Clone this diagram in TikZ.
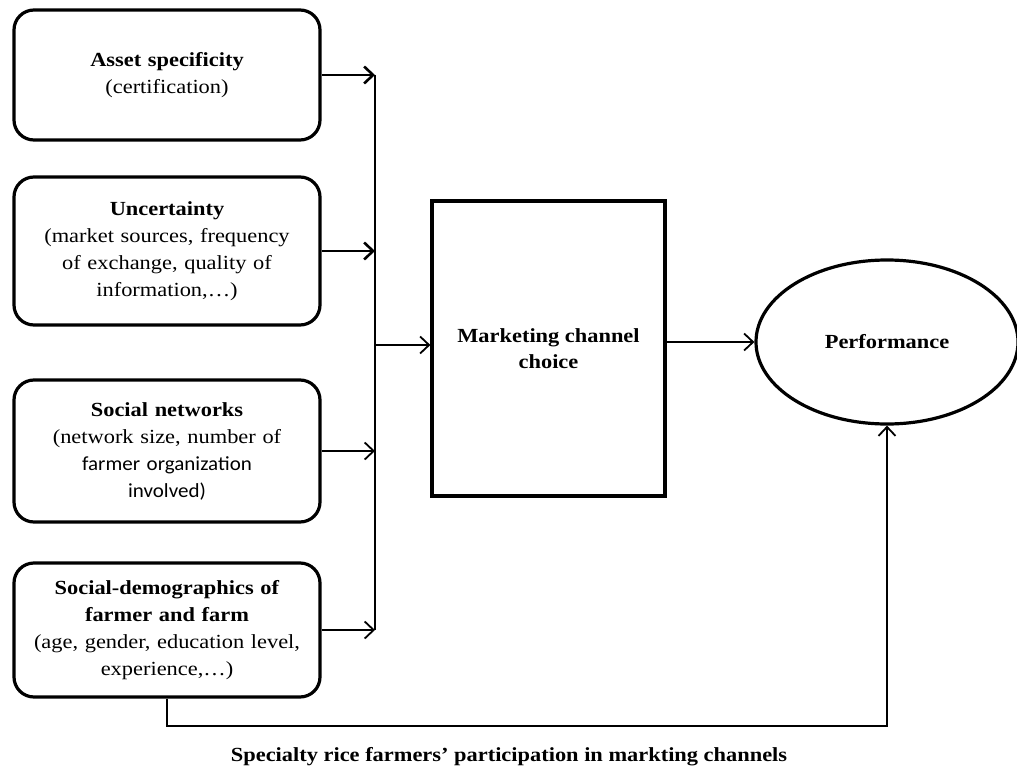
\documentclass[tikz,border=0pt]{standalone}
\usepackage{fontspec}
\setmainfont{Liberation Serif}[FakeStretch=1.12]
\newfontfamily\calib{Carlito}[FakeStretch=1.05]
\usetikzlibrary{arrows.meta,shapes.geometric,calc}
\tikzset{
  factor/.style={draw=black, line width=3.2pt, rounded corners=20pt, fill=white,
    minimum width=306pt, text width=296pt, align=center, inner sep=0pt,
    font=\fontsize{20}{27}\selectfont},
  choicebox/.style={draw=black, line width=3.2pt, minimum width=233pt, minimum height=295pt,
    inner sep=0pt, align=center, font=\bfseries\fontsize{20}{26}\selectfont},
  perfnode/.style={draw=black, line width=3.2pt, ellipse, minimum width=262pt, minimum height=164pt,
    inner sep=0pt, font=\bfseries\fontsize{20}{26}\selectfont},
  heavyarrow/.style={line width=2.8pt, -{Straight Barb[length=9pt,width=17pt,line width=2.6pt]}},
  lightarrow/.style={line width=1.8pt, -{Straight Barb[length=9pt,width=17pt,line width=1.8pt]}},
  plainline/.style={line width=1.8pt},
  captionstyle/.style={font=\bfseries\fontsize{20}{24}\selectfont, inner sep=0pt}
}
\begin{document}
\begin{tikzpicture}[x=1pt,y=-1pt]
\useasboundingbox (0,0) rectangle (1017,776);

\node[factor, minimum height=130pt] (b1) at (167,75)
  {\textbf{Asset specificity}\\(certification)};
\node[factor, minimum height=148pt] (b2) at (167,251)
  {\textbf{Uncertainty}\\(market sources, frequency\\of exchange, quality of\\information,…)};
\node[factor, minimum height=142pt] (b3) at (167,451)
  {\textbf{Social networks}\\(network size, number of\\{\calib farmer organization}\\{\calib involved)}};
\node[factor, minimum height=134pt] (b4) at (167,630)
  {\textbf{Social-demographics of}\\\textbf{farmer and farm}\\(age, gender, education level,\\experience,…)};

\node[choicebox] (mk) at (548.5,348.5) {Marketing channel\\choice};
\node[perfnode] (perf) at (887,342) {Performance};

\coordinate (j1) at (375,75);
\coordinate (j2) at (375,251);
\coordinate (j3) at (375,451);
\coordinate (j4) at (375,630);
\coordinate (jm) at (375,345);

\draw[heavyarrow] (b1.east) -- (j1);
\draw[heavyarrow] (b2.east) -- (j2);
\draw[lightarrow] (b3.east) -- (j3);
\draw[lightarrow] (b4.east) -- (j4);
\draw[plainline] (j1) -- (j4);
\draw[lightarrow] (jm) -- (jm -| mk.west);
\draw[lightarrow] (mk.east |- perf.west) -- (perf.west);
\draw[lightarrow] (b4.south) -- ++(0,27) -| (perf.south);

\node[captionstyle] (cap) at (509,757) {Specialty rice farmers’ participation in markting channels};
\end{tikzpicture}
\end{document}
